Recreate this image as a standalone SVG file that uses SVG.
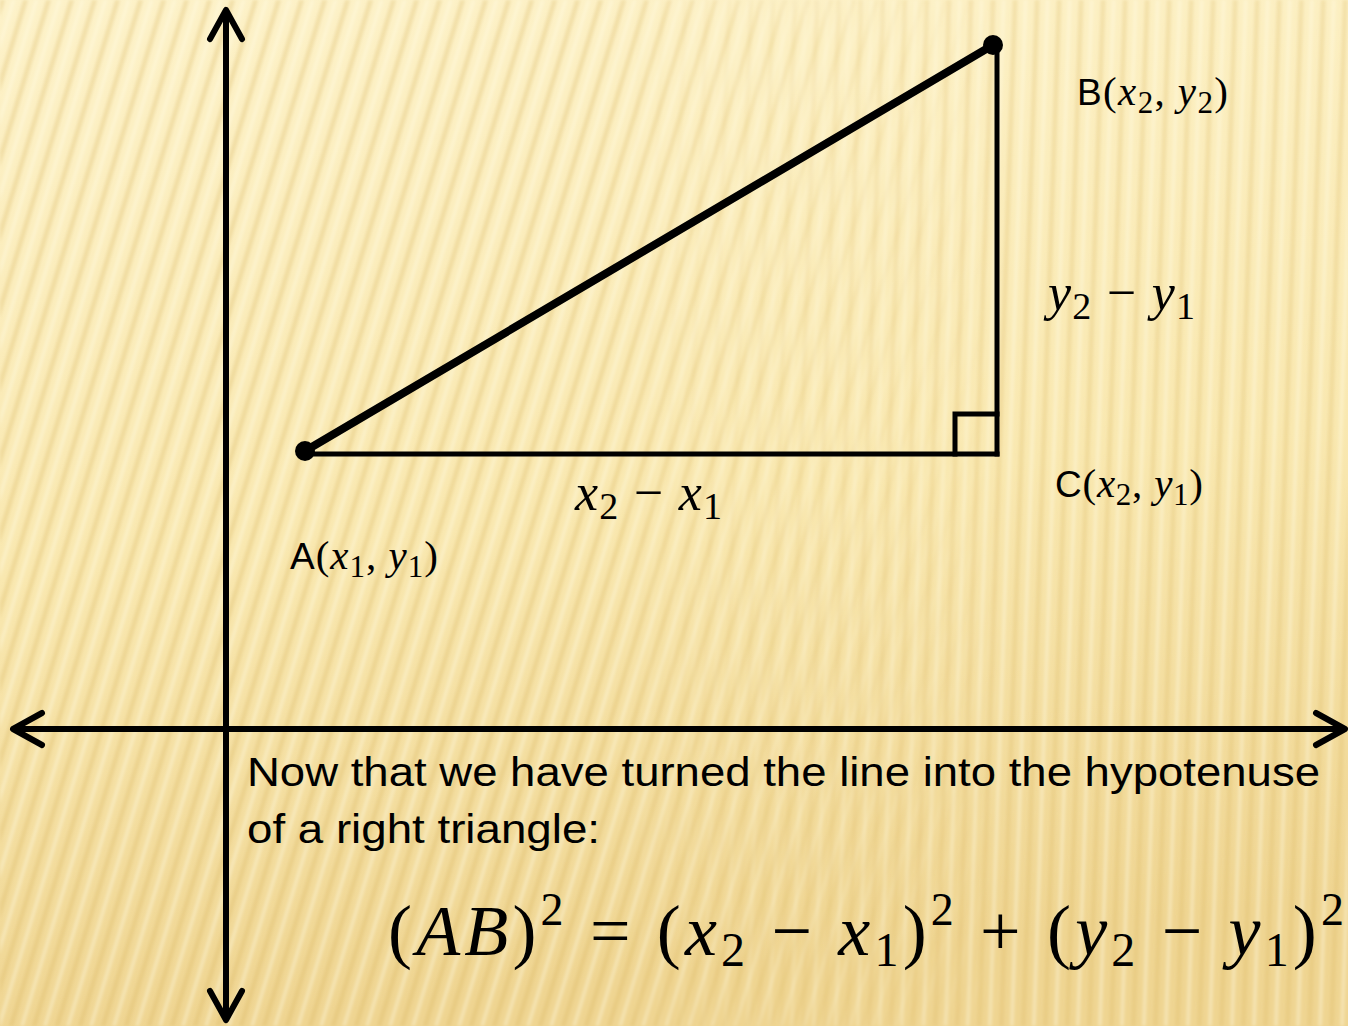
<svg xmlns="http://www.w3.org/2000/svg" width="1348" height="1026" viewBox="0 0 1348 1026">
  <defs>
    <linearGradient id="bg" x1="0" y1="0" x2="0.15" y2="1">
      <stop offset="0" stop-color="#fdf2c9"/>
      <stop offset="0.55" stop-color="#f9e8b0"/>
      <stop offset="1" stop-color="#efd592"/>
    </linearGradient>
    <pattern id="stripesA" width="22" height="40" patternUnits="userSpaceOnUse" patternTransform="rotate(17)">
      <rect x="0" y="0" width="5" height="40" fill="#d8b45e" opacity="0.28"/>
      <rect x="11" y="0" width="4" height="40" fill="#fffbe6" opacity="0.35"/>
    </pattern>
    <pattern id="stripesB" width="22" height="40" patternUnits="userSpaceOnUse" patternTransform="rotate(2)">
      <rect x="0" y="0" width="5" height="40" fill="#d8b45e" opacity="0.24"/>
      <rect x="11" y="0" width="4" height="40" fill="#fffbe6" opacity="0.35"/>
    </pattern>
    <linearGradient id="fadeL" x1="0" y1="0" x2="1" y2="0">
      <stop offset="0" stop-color="#fff"/>
      <stop offset="0.45" stop-color="#fff"/>
      <stop offset="0.75" stop-color="#000"/>
    </linearGradient>
    <linearGradient id="fadeR" x1="0" y1="0" x2="1" y2="0">
      <stop offset="0.45" stop-color="#000"/>
      <stop offset="0.75" stop-color="#fff"/>
    </linearGradient>
    <mask id="mL"><rect width="1348" height="1026" fill="url(#fadeL)"/></mask>
    <mask id="mR"><rect width="1348" height="1026" fill="url(#fadeR)"/></mask>
    <filter id="soft" x="0" y="0" width="1" height="1"><feGaussianBlur stdDeviation="1.6"/></filter>
    <marker id="chev" markerUnits="userSpaceOnUse" markerWidth="40" markerHeight="40" viewBox="-34 -20 40 40" refX="0" refY="0" orient="auto-start-reverse">
      <path d="M -29 -16 L 0 0 L -29 16" fill="none" stroke="#000" stroke-width="6" stroke-linecap="round" stroke-linejoin="round"/>
    </marker>
    <style>
      .axis { stroke:#000; stroke-width:6; fill:none; }
      .side { stroke:#000; stroke-width:5; fill:none; stroke-linecap:square; }
      .hyp { stroke:#000; stroke-width:8; fill:none; stroke-linecap:round; }
      .pt { fill:#000; }
      .m { font-family:"Liberation Serif","DejaVu Serif",serif; fill:#000; }
      .i { font-style:italic; }
      .s { font-family:"Liberation Sans","DejaVu Sans",sans-serif; }
      .body { font-family:"Liberation Sans","DejaVu Sans",sans-serif; font-size:40px; fill:#000; }
    </style>
  </defs>

  <rect width="1348" height="1026" fill="url(#bg)"/>
  <g filter="url(#soft)">
    <rect width="1348" height="1026" fill="url(#stripesA)" mask="url(#mL)"/>
    <rect width="1348" height="1026" fill="url(#stripesB)" mask="url(#mR)"/>
  </g>

  <g id="connectors">
    <line id="y-axis" class="axis" x1="226" y1="1020" x2="226" y2="10" marker-start="url(#chev)" marker-end="url(#chev)"/>
    <line id="x-axis" class="axis" x1="13" y1="729" x2="1345" y2="729" marker-start="url(#chev)" marker-end="url(#chev)"/>
    <line id="AC" class="side" x1="305" y1="454" x2="997" y2="454"/>
    <line id="CB" class="side" x1="997" y1="454" x2="997" y2="46"/>
    <line id="AB" class="hyp" x1="305" y1="451" x2="993" y2="45"/>
  </g>

  <g id="node-A">
    <circle class="pt" cx="305" cy="451" r="10"/>
    <text class="m" x="290" y="569" font-size="41" textLength="148" lengthAdjust="spacing"><tspan class="s" font-size="37">A</tspan>(<tspan class="i">x</tspan><tspan font-size="31" dy="8">1</tspan><tspan dy="-8">, </tspan><tspan class="i">y</tspan><tspan font-size="31" dy="8">1</tspan><tspan dy="-8">)</tspan></text>
  </g>

  <g id="node-B">
    <circle class="pt" cx="993" cy="45" r="10"/>
    <text class="m" x="1077" y="105" font-size="41" textLength="151" lengthAdjust="spacing"><tspan class="s" font-size="37">B</tspan>(<tspan class="i">x</tspan><tspan font-size="31" dy="8">2</tspan><tspan dy="-8">, </tspan><tspan class="i">y</tspan><tspan font-size="31" dy="8">2</tspan><tspan dy="-8">)</tspan></text>
  </g>

  <g id="node-C">
    <path d="M 955 454 L 955 414 L 997 414" class="side" stroke-linecap="butt"/>
    <text class="m" x="1055" y="497" font-size="41" textLength="148" lengthAdjust="spacing"><tspan class="s" font-size="37">C</tspan>(<tspan class="i">x</tspan><tspan font-size="31" dy="8">2</tspan><tspan dy="-8">, </tspan><tspan class="i">y</tspan><tspan font-size="31" dy="8">1</tspan><tspan dy="-8">)</tspan></text>
  </g>

  <g id="label-dx">
    <text class="m" x="575" y="510" font-size="52" textLength="147" lengthAdjust="spacing"><tspan class="i">x</tspan><tspan font-size="38" dy="9">2</tspan><tspan dy="-9"> − </tspan><tspan class="i">x</tspan><tspan font-size="38" dy="9">1</tspan></text>
  </g>

  <g id="label-dy">
    <text class="m" x="1048" y="310" font-size="52" textLength="147" lengthAdjust="spacing"><tspan class="i">y</tspan><tspan font-size="38" dy="9">2</tspan><tspan dy="-9"> − </tspan><tspan class="i">y</tspan><tspan font-size="38" dy="9">1</tspan></text>
  </g>

  <g id="caption">
    <text class="body" x="247" y="786" textLength="1073" lengthAdjust="spacingAndGlyphs">Now that we have turned the line into the hypotenuse</text>
    <text class="body" x="247" y="843" textLength="353" lengthAdjust="spacingAndGlyphs">of a right triangle:</text>
  </g>

  <g id="equation">
    <text class="m" x="388" y="955" font-size="72" textLength="956" lengthAdjust="spacing">(<tspan class="i">AB</tspan>)<tspan font-size="46" dy="-30">2</tspan><tspan dy="30"> = (</tspan><tspan class="i">x</tspan><tspan font-size="48" dy="11">2</tspan><tspan dy="-11"> − </tspan><tspan class="i">x</tspan><tspan font-size="48" dy="11">1</tspan><tspan dy="-11">)</tspan><tspan font-size="46" dy="-30">2</tspan><tspan dy="30"> + (</tspan><tspan class="i">y</tspan><tspan font-size="48" dy="11">2</tspan><tspan dy="-11"> − </tspan><tspan class="i">y</tspan><tspan font-size="48" dy="11">1</tspan><tspan dy="-11">)</tspan><tspan font-size="46" dy="-30">2</tspan></text>
  </g>
</svg>
